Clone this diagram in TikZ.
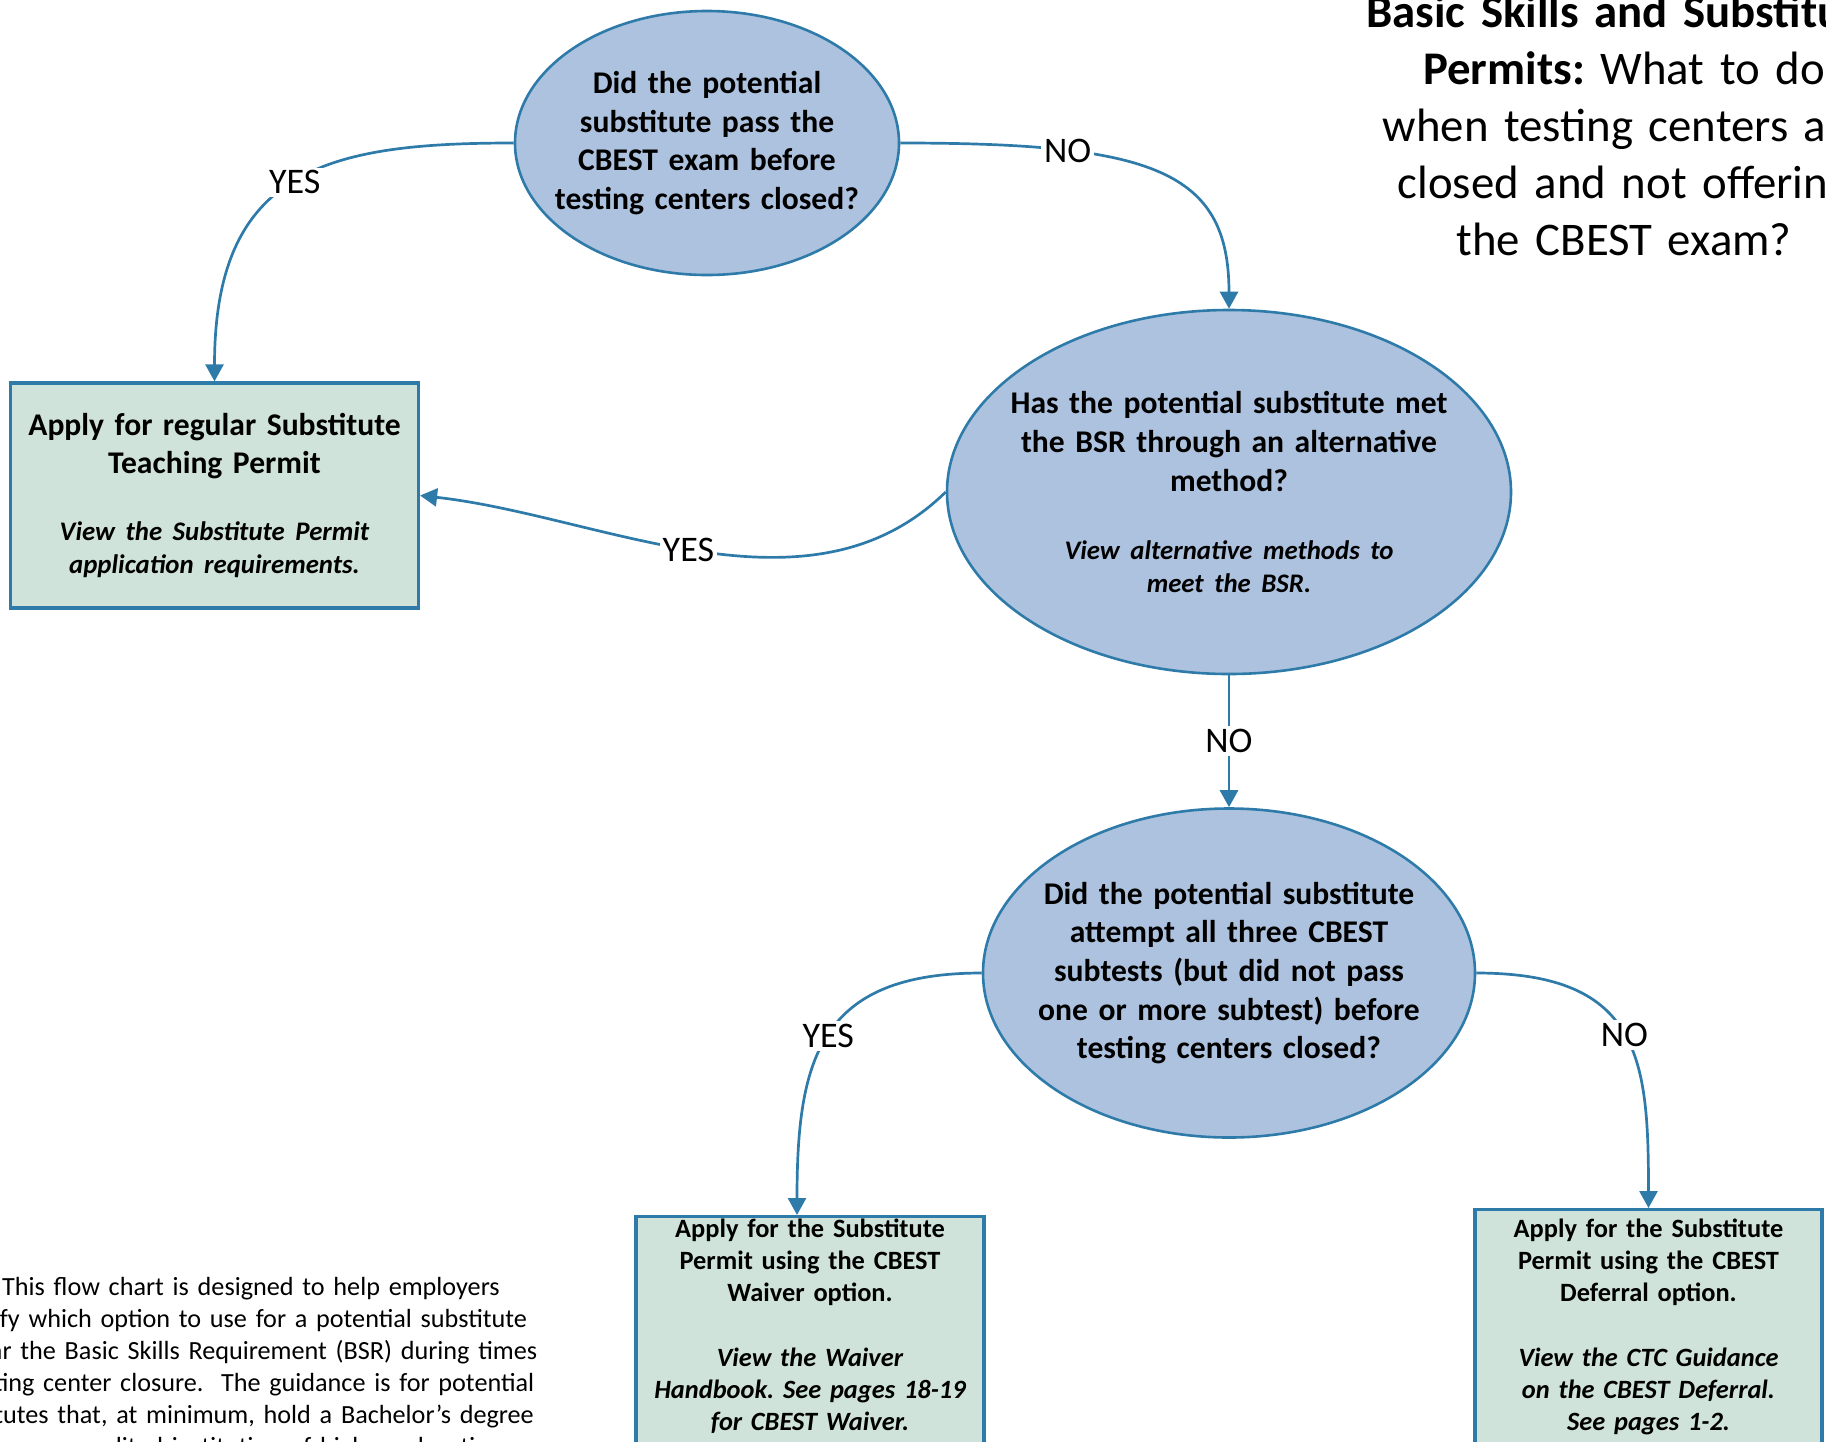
\documentclass[tikz,border=0pt]{standalone}
\usepackage{fontspec}
\setmainfont{Carlito}
\frenchspacing
\usetikzlibrary{shapes.geometric,arrows.meta}
\definecolor{flowblue}{HTML}{2E7BAA}
\definecolor{ovalfill}{HTML}{ADC2DE}
\definecolor{boxfill}{HTML}{D0E3DB}
\tikzset{
  oval/.style={ellipse,draw=flowblue,fill=ovalfill,line width=1.3pt,inner sep=0pt},
  qtext/.style={text width=#1,align=center,inner sep=0pt,font=\bfseries\fontsize{15.8}{19.3}\selectfont},
  permitbox/.style={rectangle,draw=flowblue,fill=boxfill,line width=1.6pt,align=center,inner xsep=5pt},
  answer/.style={fill=white,inner sep=1.5pt,font=\fontsize{18}{22}\selectfont},
  flow/.style={draw=flowblue,line width=1.35pt,-{Triangle[length=8.5pt,width=9pt]}}
}

\begin{document}
\begin{tikzpicture}[x=0.5pt,y=-0.5pt]
      \useasboundingbox (0,0) rectangle (1826,1441); % page frame
      \node[anchor=base,text width=400pt,align=center,inner sep=0pt,font=\fontsize{23.4}{28.5}\selectfont] (title) at (1624,27)
        {\textbf{Basic Skills and Substitute\\Permits:} What to do\\when testing centers are\\closed and not offering\\the CBEST exam?}; % title
      \node[oval,minimum width=192pt,minimum height=132pt,
        label={[qtext=185pt]center:Did the potential\\substitute pass the\\CBEST exam before\\testing centers closed?}] (passed) at (707,143) {}; % first question
      \node[oval,minimum width=282pt,minimum height=182pt,
        label={[qtext=240pt]center:{Has the potential substitute met\\the BSR through an alternative\\method?\endgraf\vspace{18pt}{\itshape\fontsize{13.4}{16.3}\selectfont View alternative methods to\\meet the BSR.\endgraf}}}] (altmethod) at (1229,492) {}; % second question
      \node[oval,minimum width=246pt,minimum height=164.5pt,
        label={[qtext=230pt]center:Did the potential substitute\\attempt all three CBEST\\subtests (but did not pass\\one or more subtest) before\\testing centers closed?}] (attempted) at (1229,973) {}; % third question
      \node[permitbox,text width=194pt,minimum height=112.5pt,font=\bfseries\fontsize{15.8}{18.7}\selectfont] (regular) at (214.5,495.5)
        {Apply for regular Substitute\\Teaching Permit\par\vspace{17.5pt}{\itshape\fontsize{13.4}{16.3}\selectfont View the Substitute Permit\\application requirements.\par}}; % regular permit
      \node[permitbox,anchor=north,text width=164pt,inner ysep=1.3pt,text depth=140pt,font=\bfseries\fontsize{13.2}{16}\selectfont] (waiver) at (810,1215)
        {Apply for the Substitute\\Permit using the CBEST\\Waiver option.\par\vspace{16.6pt}{\itshape View the Waiver\\Handbook. See pages 18-19\\for CBEST Waiver.\par}}; % waiver box
      \node[permitbox,anchor=north,text width=163.5pt,inner ysep=4.8pt,text depth=140pt,font=\bfseries\fontsize{13.2}{16}\selectfont] (deferral) at (1648.5,1208)
        {Apply for the Substitute\\Permit using the CBEST\\Deferral option.\par\vspace{16.6pt}{\itshape View the CTC Guidance\\on the CBEST Deferral.\\See pages 1-2.\par}}; % deferral box
      \node[anchor=base,text width=310pt,align=center,inner sep=0pt,font=\fontsize{13.1}{16}\selectfont] (note) at (233,1295)
        {\hspace*{18pt}This flow chart is designed to help employers\\identify which option to use for a potential substitute\\to clear the Basic Skills Requirement (BSR) during times\\of testing center closure.\ \ The guidance is for potential\\substitutes that, at minimum, hold a Bachelor's degree\\from an accredited institution of higher education.}; % note
      \draw[flow] (passed.west) .. controls +(-185,0) and +(0,-213) .. (regular.north) node[answer,pos=0.5] {YES}; % passed
      \draw[flow] (passed.east) .. controls +(251,0) and +(0,-139) .. (altmethod.north) node[answer,pos=0.27] {NO}; % not passed
      \draw[flow] (altmethod.west) .. controls +(-137,134) and +(181,20) .. (regular.east) node[answer,pos=0.52] {YES}; % alternative met
      \draw[flow] (altmethod.south) -- (attempted.north) node[answer,midway] {NO}; % alternative not met
      \draw[flow] (attempted.west) .. controls +(-163,0) and +(0,-155) .. ([xshift=-6.5pt]waiver.north) node[answer,pos=0.5] {YES}; % attempted
      \draw[flow] (attempted.east) .. controls +(165,0) and +(0,-148) .. (deferral.north) node[answer,pos=0.5] {NO}; % not attempted
\end{tikzpicture}
\end{document}
